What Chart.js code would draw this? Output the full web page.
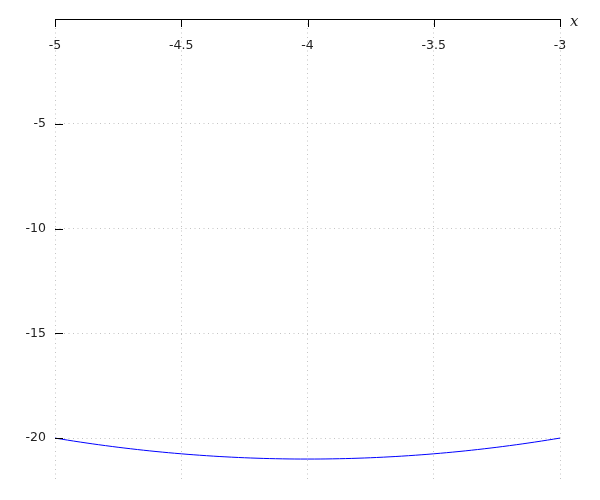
<!DOCTYPE html>
<html>
<head>
<meta charset="utf-8">
<script src="https://cdn.jsdelivr.net/npm/chart.js@4/dist/chart.umd.min.js"></script>
<style>
  html, body { margin: 0; padding: 0; background: #fff; }
  #wrap { width: 600px; height: 500px; }
</style>
</head>
<body>
<div id="wrap"><canvas id="curveChart" width="600" height="500"></canvas></div>
<script>
// values
const xValues = [-5, -4.9, -4.8, -4.7, -4.6, -4.5, -4.4, -4.3, -4.2, -4.1, -4,
                 -3.9, -3.8, -3.7, -3.6, -3.5, -3.4, -3.3, -3.2, -3.1, -3];
const yValues = [-20, -20.19, -20.36, -20.51, -20.64, -20.75, -20.84, -20.91, -20.96, -20.99, -21,
                 -20.99, -20.96, -20.91, -20.84, -20.75, -20.64, -20.51, -20.36, -20.19, -20];
const xTicks = [-5, -4.5, -4, -3.5, -3];
const yTicks = [-5, -10, -15, -20];
const axisLabel = 'x';

const points = xValues.map((x, i) => ({ x: x, y: yValues[i] }));

// draws the top axis line, inner tick marks and the tick labels
const axisPlugin = {
    id: 'axisPlugin',
    afterDraw(chart) {
        const ctx = chart.ctx;
        const xs = chart.scales.x;
        const ys = chart.scales.y;
        const area = chart.chartArea;
        const y0 = ys.getPixelForValue(0);

        ctx.save();
        ctx.strokeStyle = '#000';
        ctx.lineWidth = 1;
        ctx.beginPath();
        ctx.moveTo(area.left, Math.round(y0) + 0.5);
        ctx.lineTo(area.right, Math.round(y0) + 0.5);
        xTicks.forEach(v => {
            const px = Math.round(xs.getPixelForValue(v)) + 0.5;
            ctx.moveTo(px, y0);
            ctx.lineTo(px, y0 + 8);
        });
        yTicks.forEach(v => {
            const py = Math.round(ys.getPixelForValue(v)) + 0.5;
            ctx.moveTo(area.left, py);
            ctx.lineTo(area.left + 8, py);
        });
        ctx.stroke();

        ctx.fillStyle = '#222';
        ctx.font = '12.5px "DejaVu Sans"';
        ctx.textAlign = 'center';
        ctx.textBaseline = 'middle';
        xTicks.forEach(v => {
            ctx.fillText(String(v), xs.getPixelForValue(v), y0 + 27);
        });
        ctx.textAlign = 'right';
        yTicks.forEach(v => {
            ctx.fillText(String(v), area.left - 9, ys.getPixelForValue(v));
        });

        ctx.textAlign = 'left';
        ctx.font = 'italic 15px "DejaVu Serif"';
        ctx.fillText(axisLabel, area.right + 10, y0 + 3);
        ctx.restore();
    }
};

const ctx = document.getElementById('curveChart').getContext('2d');
new Chart(ctx, {
    type: 'line',
    data: {
        datasets: [{
            data: points,
            borderColor: '#0000ff',
            borderWidth: 1,
            pointRadius: 0,
            tension: 0.4,
            fill: false
        }]
    },
    options: {
        responsive: false,
        animation: false,
        layout: { padding: { left: 55, top: 19, right: 40, bottom: 20 } },
        plugins: {
            legend: { display: false },
            tooltip: { enabled: false }
        },
        scales: {
            x: {
                type: 'linear',
                min: -5,
                max: -3,
                ticks: { display: false, stepSize: 0.5 },
                border: { display: false, dash: [1, 3.5] },
                grid: { color: '#c4c4c4', drawTicks: false }
            },
            y: {
                type: 'linear',
                min: -22,
                max: 0,
                ticks: { display: false, stepSize: 5, includeBounds: false },
                border: { display: false, dash: [1, 3.5] },
                grid: { color: '#c4c4c4', drawTicks: false }
            }
        }
    },
    plugins: [axisPlugin]
});
</script>
</body>
</html>
